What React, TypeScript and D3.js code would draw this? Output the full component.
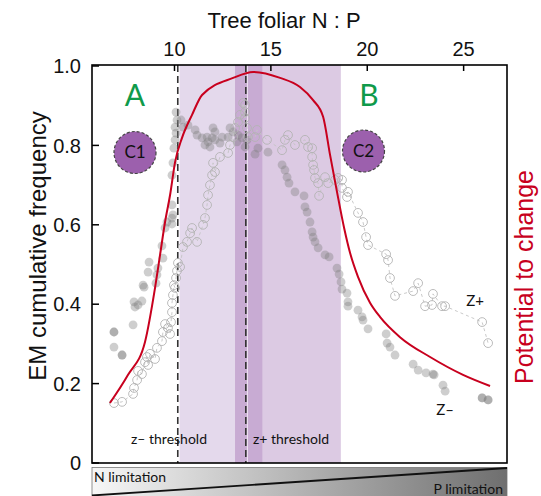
import React from "react";
import * as d3 from "d3";

// ---- data ----
const npTicks = [10, 15, 20, 25];
const freqTicks = [0, 0.2, 0.4, 0.6, 0.8, 1.0];
const freqTickLabels = ["0", "0.2", "0.4", "0.6", "0.8", "1.0"];

const zMinusThreshold = 10.17;
const zPlusThreshold = 13.7;
const shadeStart = [10.23, 13.14, 14.58];
const shadeEnd = [13.14, 14.58, 18.63];
const shadeColor = ["#e4d9ec", "#c8abd3", "#dccae3"];

const zMinusNP = [6.86, 6.86, 6.86, 7.28, 7.28, 7.85, 7.9, 7.95, 8.11, 8.31, 8.37, 8.42, 8.63, 8.68, 9.04, 9.09, 9.14, 9.4, 9.35, 9.51, 9.61, 9.87, 9.87, 9.87, 9.92, 9.87, 9.92, 9.97, 10.03, 10.08, 10.03, 10.13, 10.08,
  10.34, 10.44, 10.7, 11.07, 11.17, 11.43, 11.58, 11.69, 11.74, 11.84, 11.95, 12.0, 12.1, 12.1, 12.36, 12.47, 12.78, 12.88, 13.04, 13.24, 13.3, 13.5, 13.66, 13.76, 14.18, 14.33, 14.85,
  15.58, 15.73, 15.84, 15.94, 16.25, 16.72, 16.77, 16.88, 17.03, 17.14, 17.19, 17.29, 17.45, 17.81, 18.02, 18.43, 18.54, 18.64, 18.69, 18.95, 19.0, 19.0, 19.52, 19.73, 19.78, 20.04,
  20.98, 21.03, 21.18, 21.44, 22.38, 22.64, 23.05, 23.41, 23.47, 23.93, 24.04, 25.96, 25.96, 26.27, 26.27];
const zMinusFreq = [0.33, 0.33, 0.292, 0.272, 0.272, 0.348, 0.406, 0.393, 0.398, 0.408, 0.448, 0.443, 0.481, 0.506, 0.453, 0.474, 0.491, 0.516, 0.547, 0.592, 0.607, 0.617, 0.602, 0.65, 0.625, 0.725, 0.756, 0.793, 0.814, 0.831, 0.846, 0.864, 0.884,
  0.864, 0.846, 0.851, 0.839, 0.826, 0.819, 0.801, 0.821, 0.809, 0.796, 0.819, 0.844, 0.834, 0.814, 0.806, 0.821, 0.821, 0.844, 0.834, 0.809, 0.826, 0.819, 0.796, 0.814, 0.778, 0.793, 0.783,
  0.751, 0.738, 0.72, 0.705, 0.683, 0.673, 0.645, 0.632, 0.607, 0.582, 0.569, 0.557, 0.542, 0.524, 0.519, 0.491, 0.476, 0.456, 0.438, 0.428, 0.406, 0.395, 0.385, 0.368, 0.36, 0.338,
  0.325, 0.302, 0.292, 0.272, 0.249, 0.234, 0.227, 0.224, 0.222, 0.196, 0.181, 0.164, 0.164, 0.159, 0.159];

const zPlusNP = [6.86, 7.28, 7.85, 7.9, 8.06, 8.11, 8.31, 8.47, 8.57, 8.63, 8.73, 8.99, 9.09, 9.35, 9.4, 9.51, 9.66, 9.77, 9.82, 9.87, 9.87, 9.92, 9.97, 10.03, 10.08, 10.13, 10.18, 10.29,
  10.44, 10.65, 10.81, 10.91, 11.17, 11.48, 11.58, 11.69, 11.74, 11.84, 11.95, 12.0, 12.1, 12.36, 12.78, 12.88, 13.04, 13.14, 13.3, 13.4, 13.56, 13.66, 13.66, 13.66, 13.76, 13.81,
  14.18, 14.28, 14.8, 15.58, 15.73, 15.89, 16.25, 16.77, 16.93, 17.14, 17.14, 17.19, 17.24, 17.29, 17.45, 17.5, 17.81, 17.97, 18.33, 18.49, 18.69, 18.69, 18.95, 19.0,
  19.52, 19.78, 19.94, 20.04, 20.98, 21.08, 21.18, 21.44, 22.38, 22.64, 23.0, 23.36, 23.41, 23.88, 24.04, 25.96, 26.27];
const zPlusFreq = [0.151, 0.154, 0.174, 0.189, 0.209, 0.232, 0.224, 0.254, 0.267, 0.247, 0.275, 0.262, 0.29, 0.307, 0.33, 0.35, 0.34, 0.325, 0.355, 0.38, 0.403, 0.423, 0.448, 0.441, 0.466, 0.484, 0.504, 0.494,
  0.544, 0.557, 0.579, 0.592, 0.557, 0.6, 0.617, 0.65, 0.675, 0.7, 0.725, 0.756, 0.733, 0.771, 0.781, 0.801, 0.821, 0.844, 0.859, 0.877, 0.907, 0.884, 0.869, 0.902, 0.844, 0.821,
  0.821, 0.839, 0.814, 0.788, 0.814, 0.826, 0.801, 0.814, 0.796, 0.793, 0.771, 0.751, 0.738, 0.718, 0.705, 0.673, 0.72, 0.705, 0.713, 0.718, 0.713, 0.693, 0.67, 0.683,
  0.63, 0.607, 0.569, 0.549, 0.526, 0.511, 0.466, 0.421, 0.433, 0.453, 0.395, 0.398, 0.426, 0.395, 0.395, 0.355, 0.302];

const potentialNP = [6.65, 7.59, 8.47, 8.99, 9.25, 9.51, 9.77, 10.03, 10.39, 10.91, 11.43, 13.04, 14.08, 15.48, 16.51, 17.19, 17.71, 18.07, 18.43, 18.8, 19.11, 19.52, 20.15, 20.66, 21.7, 23.26, 24.97, 26.37];
const potentialValue = [0.151, 0.222, 0.305, 0.441, 0.524, 0.607, 0.675, 0.758, 0.819, 0.877, 0.927, 0.97, 0.985, 0.97, 0.947, 0.914, 0.872, 0.776, 0.683, 0.592, 0.529, 0.469, 0.403, 0.368, 0.317, 0.267, 0.222, 0.194];

// ---- layout ----
const W = 541;
const H = 496;
const L = 92, R = 507, T = 65, B = 463;

export default function App() {
  const x = d3.scaleLinear().domain([5.72, 27.25]).range([L, R]);
  const y = d3.scaleLinear().domain([0, 1]).range([B, 66]);

  const zPlus = zPlusNP.map((v, i) => [v, zPlusFreq[i]] as [number, number]).sort((a, b) => a[0] - b[0]);
  const zPlusLine = d3.line<[number, number]>().x((d) => x(d[0])).y((d) => y(d[1]))(zPlus) || "";
  const potential = potentialNP.map((v, i) => [v, potentialValue[i]] as [number, number]);
  const potentialPath = d3.line<[number, number]>().x((d) => x(d[0])).y((d) => y(d[1])).curve(d3.curveMonotoneX)(potential) || "";

  const helv = "'Liberation Sans', Arial, Helvetica, sans-serif";
  const myriad = "Lato, 'Open Sans', sans-serif";
  const green = "#0f9a4a";
  const red = "#c8001e";

  return (
    <svg width={W} height={H} viewBox={`0 0 ${W} ${H}`} style={{ position: "absolute", left: 0, top: 0, background: "#fff" }}>
      <defs>
        <linearGradient id="limGrad" x1="0" x2="1" y1="0" y2="0">
          <stop offset="0%" stopColor="#f7f7f7" />
          <stop offset="100%" stopColor="#6f6f6f" />
        </linearGradient>
        <clipPath id="plotClip">
          <rect x={L} y={T} width={R - L} height={B - T} />
        </clipPath>
      </defs>

      {/* shaded threshold intervals */}
      {shadeStart.map((s, i) => (
        <rect key={"sh" + i} x={x(s)} y={T} width={x(shadeEnd[i]) - x(s)} height={B - T} fill={shadeColor[i]} />
      ))}

      {/* threshold dashed lines */}
      {[zMinusThreshold, zPlusThreshold].map((t, i) => (
        <g key={"th" + i}>
          <line x1={x(t) + 1.6} x2={x(t) + 1.6} y1={T} y2={B} stroke="#ffffff" strokeOpacity={0.7} strokeWidth={1} />
          <line x1={x(t)} x2={x(t)} y1={T} y2={B} stroke="#333" strokeWidth={1.6} strokeDasharray="7,4" />
        </g>
      ))}

      <g clipPath="url(#plotClip)">
        {/* Z- filled points */}
        {zMinusNP.map((v, i) => (
          <circle key={"zm" + i} cx={x(v)} cy={y(zMinusFreq[i])} r={4.4} fill="#7d7d7d" fillOpacity={0.38} />
        ))}
        {/* Z+ dashed connection and open points */}
        <path d={zPlusLine} fill="none" stroke="#c4c4c4" strokeWidth={0.9} strokeDasharray="3,3" />
        {zPlus.map((d, i) => (
          <circle key={"zp" + i} cx={x(d[0])} cy={y(d[1])} r={4.4} fill="none" stroke="#b3b3b3" strokeWidth={0.9} />
        ))}
        {/* potential to change */}
        <path d={potentialPath} fill="none" stroke={red} strokeWidth={2} />
      </g>

      {/* frame */}
      <rect x={L} y={T} width={R - L} height={B - T} fill="none" stroke="#000" strokeWidth={1.6} />

      {/* top axis ticks */}
      {npTicks.map((t) => (
        <g key={"xt" + t}>
          <line x1={x(t)} x2={x(t)} y1={T} y2={T + 6} stroke="#000" strokeWidth={1.5} />
          <text x={x(t)} y={56} textAnchor="middle" fontFamily={helv} fontSize={20} fill="#111">{t}</text>
        </g>
      ))}
      <text x={284} y={28} textAnchor="middle" fontFamily={helv} fontSize={22} fill="#111">Tree foliar N : P</text>

      {/* left axis ticks */}
      {freqTicks.map((t, i) => (
        <g key={"yt" + t}>
          <line x1={L} x2={L + 7} y1={y(t)} y2={y(t)} stroke="#000" strokeWidth={1.5} />
          <text x={81} y={y(t)} dy="0.36em" textAnchor="end" fontFamily={helv} fontSize={20} fill="#111">{freqTickLabels[i]}</text>
        </g>
      ))}
      <text transform="translate(46,246) rotate(-90)" textAnchor="middle" fontFamily={helv} fontSize={24} fill="#111">EM cumulative frequency</text>
      <text transform="translate(533,277) rotate(-90)" textAnchor="middle" fontFamily={helv} fontSize={25} fill={red}>Potential to change</text>

      {/* annotations */}
      <text x={135} y={106} textAnchor="middle" fontFamily={myriad} fontSize={30} fill={green}>A</text>
      <text x={369} y={106} textAnchor="middle" fontFamily={myriad} fontSize={30} fill={green}>B</text>
      <circle cx={135} cy={152.5} r={21} fill="#9c60ad" stroke="#444" strokeWidth={1.2} strokeDasharray="3,2" />
      <text x={135} y={152.5} dy="0.35em" textAnchor="middle" fontFamily={myriad} fontSize={17} fill="#111">C1</text>
      <circle cx={363.5} cy={151} r={21} fill="#9c60ad" stroke="#444" strokeWidth={1.2} strokeDasharray="3,2" />
      <text x={363.5} y={151} dy="0.35em" textAnchor="middle" fontFamily={myriad} fontSize={17} fill="#111">C2</text>
      <text x={169} y={444} textAnchor="middle" fontFamily={myriad} fontSize={14} fill="#111">z– threshold</text>
      <text x={253} y={444} textAnchor="start" fontFamily={myriad} fontSize={14} fill="#111">z+ threshold</text>
      <text x={475} y={306} textAnchor="middle" fontFamily={myriad} fontSize={15} fill="#111">Z+</text>
      <text x={445} y={415} textAnchor="middle" fontFamily={myriad} fontSize={15} fill="#111">Z–</text>

      {/* N/P limitation bar */}
      <rect x={L} y={467.5} width={R - L} height={30} fill="url(#limGrad)" stroke="#777" strokeWidth={0.8} />
      <line x1={L} y1={495.5} x2={R} y2={468} stroke="#111" strokeWidth={1.8} />
      <text x={94} y={482} fontFamily={myriad} fontSize={14} fill="#111">N limitation</text>
      <text x={503} y={494} textAnchor="end" fontFamily={myriad} fontSize={14} fill="#111">P limitation</text>
    </svg>
  );
}
